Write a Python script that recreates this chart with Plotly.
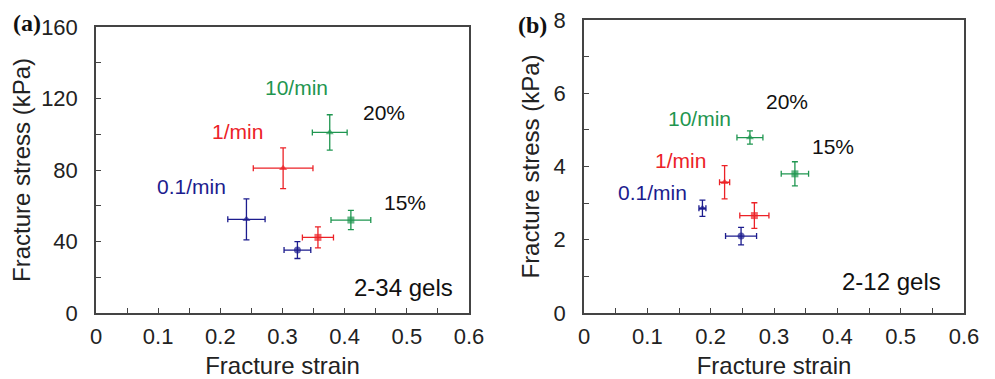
import plotly.graph_objects as go

# ---------------- data ----------------
rates = ["0.1/min", "1/min", "10/min"]
colors = ["#1c1c8e", "#ec2227", "#1f9650"]
concs = ["20%", "15%"]

# panel (a): 2-34 gels  -> per rate: [20%, 15%]
a_strain = [[0.242, 0.324], [0.301, 0.357], [0.376, 0.410]]
a_stress = [[52.4, 35.2], [81.0, 42.3], [101.0, 52.0]]
a_strain_err = [[0.030, 0.0215], [0.048, 0.025], [0.028, 0.032]]
a_stress_err = [[11.5, 4.7], [11.4, 5.9], [9.9, 5.4]]

# panel (b): 2-12 gels
b_strain = [[0.187, 0.248], [0.222, 0.269], [0.262, 0.333]]
b_stress = [[2.86, 2.10], [3.57, 2.66], [4.79, 3.80]]
b_strain_err = [[0.0055, 0.0245], [0.008, 0.023], [0.0205, 0.0216]]
b_stress_err = [[0.22, 0.24], [0.455, 0.35], [0.18, 0.33]]

symbols = [["triangle-up", "circle"], ["triangle-up", "square"], ["triangle-up", "square"]]
sizes = [7, 7]

x_ticks = [0, 0.1, 0.2, 0.3, 0.4, 0.5, 0.6]
x_ticklabels = ["0", "0.1", "0.2", "0.3", "0.4", "0.5", "0.6"]
a_yticks = [0, 40, 80, 120, 160]
b_yticks = [0, 2, 4, 6, 8]

fig = go.Figure()

def add_panel(xs, ys, exs, eys, xaxis, yaxis):
    for i, r in enumerate(rates):
        fig.add_trace(go.Scatter(
            x=xs[i], y=ys[i], mode="markers", name=r, showlegend=False,
            xaxis=xaxis, yaxis=yaxis,
            marker=dict(color=colors[i], symbol=symbols[i], size=sizes, line=dict(width=0)),
            error_x=dict(type="data", array=exs[i], color=colors[i], thickness=1.3, width=3),
            error_y=dict(type="data", array=eys[i], color=colors[i], thickness=1.3, width=3),
        ))

add_panel(a_strain, a_stress, a_strain_err, a_stress_err, "x", "y")
add_panel(b_strain, b_stress, b_strain_err, b_stress_err, "x2", "y2")

# page is offset by the default 8px body margin
OFF = 8
W, H = 995 - OFF, 379 - OFF

def px(p):
    return (p - OFF) / W

def py(p):
    return 1 - (p - OFF) / H

font = "Liberation Sans, Arial, sans-serif"
tickfont = dict(family=font, size=22, color="#222222")
titlefont = dict(family=font, size=24, color="#222222")
line_col = "#444444"

def xaxis_cfg(domain, anchor):
    return dict(domain=domain, anchor=anchor, range=[0, 0.6], tickvals=x_ticks, ticktext=x_ticklabels,
                automargin=False, ticklabeloverflow="allow",
                ticks="inside", ticklen=5, tickwidth=1.2, tickcolor=line_col,
                minor=dict(dtick=0.05, ticks="inside", ticklen=5, tickwidth=1.2, tickcolor=line_col),
                showline=True, linecolor=line_col, linewidth=1.5, mirror=True,
                showgrid=False, zeroline=False, tickfont=tickfont, ticklabelstandoff=3,
                title=dict(text="Fracture strain", font=titlefont, standoff=9))

def yaxis_cfg(domain, anchor, rng, tv, dt, standoff):
    return dict(domain=domain, anchor=anchor, range=rng, tickvals=tv,
                automargin=False, ticklabeloverflow="allow",
                ticks="inside", ticklen=5, tickwidth=1.2, tickcolor=line_col,
                minor=dict(dtick=dt, ticks="inside", ticklen=5, tickwidth=1.2, tickcolor=line_col),
                showline=True, linecolor=line_col, linewidth=1.5, mirror=True,
                showgrid=False, zeroline=False, tickfont=tickfont, ticklabelstandoff=12,
                title=dict(text="Fracture stress (kPa)", font=titlefont, standoff=standoff))

fig.update_layout(
    width=W, height=H, margin=dict(l=0, r=0, t=0, b=0),
    paper_bgcolor="white", plot_bgcolor="white",
    xaxis=xaxis_cfg([px(96), px(469)], "y"),
    yaxis=yaxis_cfg([py(313), py(27)], "x", [0, 160], a_yticks, 20, 5),
    xaxis2=xaxis_cfg([px(584), px(964)], "y2"),
    yaxis2=yaxis_cfg([py(313), py(20)], "x2", [0, 8], b_yticks, 1, 7),
)

ann = [
    # panel a
    dict(x=0.322, y=126.4, text="10/min", color=colors[2], xref="x", yref="y", size=21),
    dict(x=0.463, y=111.9, text="20%", color="#111111", xref="x", yref="y", size=21),
    dict(x=0.227, y=101.3, text="1/min", color=colors[1], xref="x", yref="y", size=21),
    dict(x=0.153, y=70.5, text="0.1/min", color=colors[0], xref="x", yref="y", size=21),
    dict(x=0.497, y=62.0, text="15%", color="#111111", xref="x", yref="y", size=21),
    dict(x=0.495, y=14.0, text="2-34 gels", color="#111111", xref="x", yref="y", size=24),
    # panel b
    dict(x=0.320, y=5.77, text="20%", color="#111111", xref="x2", yref="y2", size=21),
    dict(x=0.182, y=5.30, text="10/min", color=colors[2], xref="x2", yref="y2", size=21),
    dict(x=0.393, y=4.54, text="15%", color="#111111", xref="x2", yref="y2", size=21),
    dict(x=0.153, y=4.16, text="1/min", color=colors[1], xref="x2", yref="y2", size=21),
    dict(x=0.108, y=3.30, text="0.1/min", color=colors[0], xref="x2", yref="y2", size=21),
    dict(x=0.485, y=0.85, text="2-12 gels", color="#111111", xref="x2", yref="y2", size=24),
]
for a in ann:
    fig.add_annotation(x=a["x"], y=a["y"], xref=a["xref"], yref=a["yref"], text=a["text"],
                       showarrow=False, xanchor="center", yanchor="middle",
                       font=dict(family=font, size=a["size"], color=a["color"]))

for lab, lx, ly in [("(a)", 27, 23), ("(b)", 532, 25)]:
    fig.add_annotation(x=px(lx), y=py(ly), xref="paper", yref="paper", text="<b>" + lab + "</b>",
                       showarrow=False, xanchor="center", yanchor="middle",
                       font=dict(family="Liberation Serif, Times New Roman, serif", size=24, color="#111111"))

fig.write_html("out.html")
